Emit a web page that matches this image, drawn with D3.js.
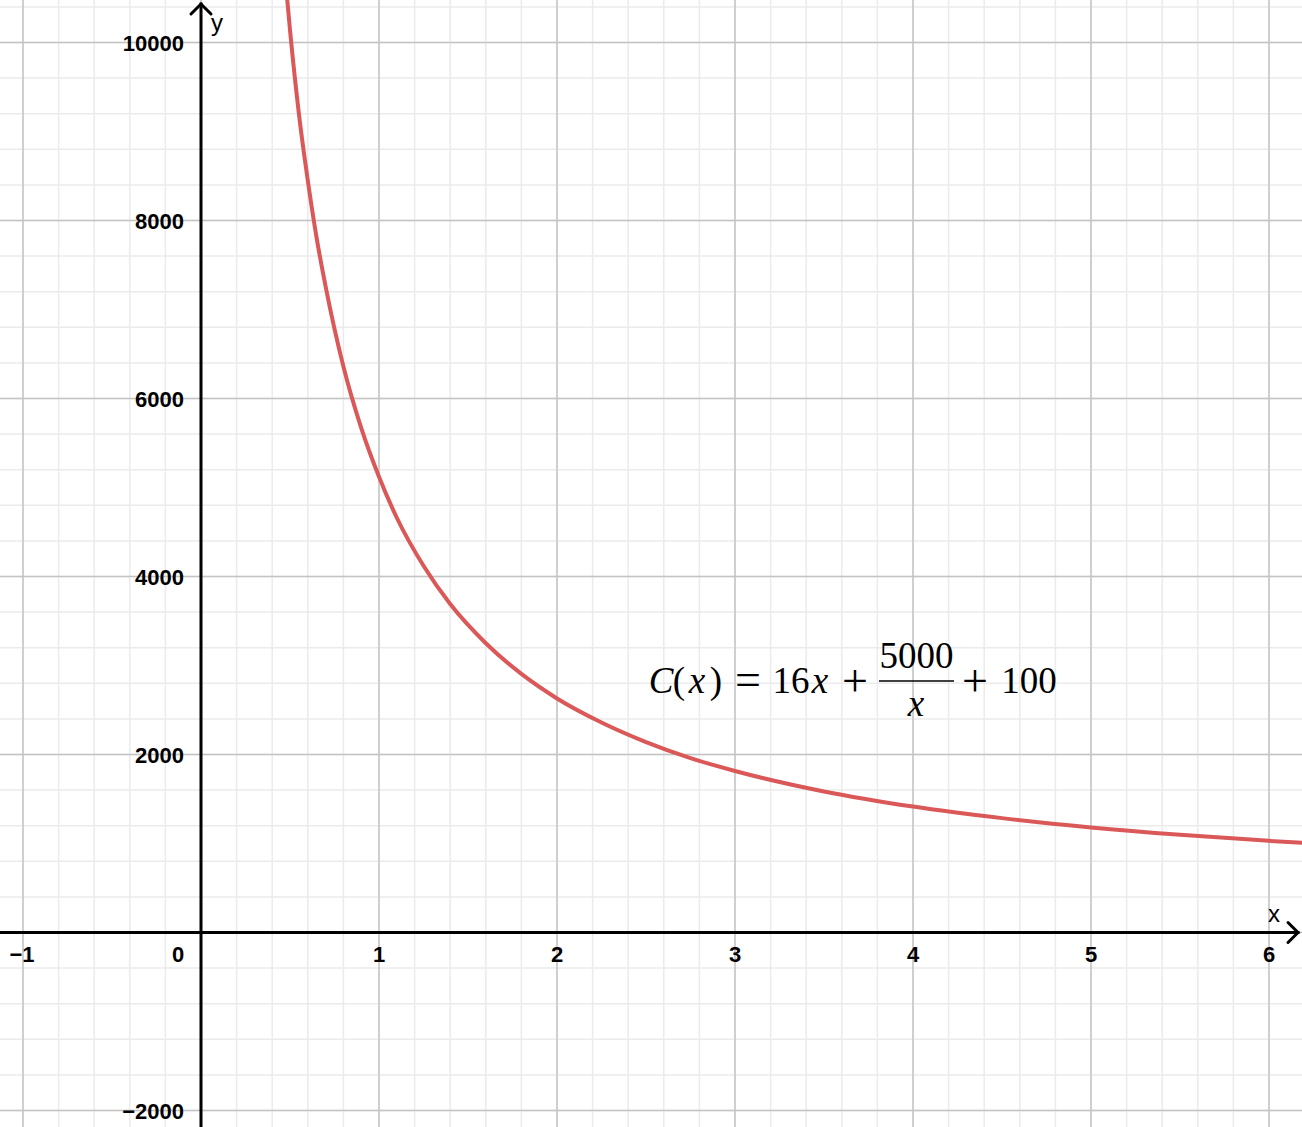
<!DOCTYPE html>
<html>
<head>
<meta charset="utf-8">
<script src="https://cdn.jsdelivr.net/npm/d3@7"></script>
<style>
  html, body { margin: 0; padding: 0; background: #fff; }
  svg { display: block; }
</style>
</head>
<body>
<svg id="chart" width="1302" height="1127"></svg>
<script>
// tick labels
const xTicks = [-1, 0, 1, 2, 3, 4, 5, 6];
const yTicks = [-2000, 2000, 4000, 6000, 8000, 10000];

// curve readings taken off the graph (x, C(x))
const curveX = [0.47, 0.50, 0.55, 0.60, 0.65, 0.70, 0.80, 0.90, 1.00, 1.10, 1.25, 1.40, 1.60, 1.80,
                2.00, 2.25, 2.50, 2.75, 3.00, 3.50, 4.00, 4.50, 5.00, 5.50, 6.00, 6.25];
const curveY = [10800, 10140, 9200, 8450, 7800, 7260, 6360, 5670, 5120, 4660, 4120, 3690, 3250, 2905,
                2630, 2360, 2140, 1960, 1815, 1585, 1415, 1285, 1180, 1097, 1030, 1000];

const width = 1302, height = 1127;
const svg = d3.select("#chart");

const x = d3.scaleLinear().domain([-1, 6]).range([23, 1269]);
const y = d3.scaleLinear().domain([0, 10000]).range([932.5, 42.5]);

const xMin = x.invert(0), xMax = x.invert(width);
const yMin = y.invert(height), yMax = y.invert(0);

// grid: minor every 0.2 / 400, major every 1 / 2000
const minorX = d3.range(Math.ceil(xMin * 5), Math.floor(xMax * 5) + 1).map(d => d / 5);
const minorY = d3.range(Math.ceil(yMin / 400), Math.floor(yMax / 400) + 1).map(d => d * 400);

const grid = svg.append("g");
grid.selectAll(".mx").data(minorX).enter().append("line")
    .attr("x1", d => x(d)).attr("x2", d => x(d))
    .attr("y1", 0).attr("y2", height)
    .style("stroke", "#ebebeb").style("stroke-width", "1.5px");
grid.selectAll(".my").data(minorY).enter().append("line")
    .attr("y1", d => y(d)).attr("y2", d => y(d))
    .attr("x1", 0).attr("x2", width)
    .style("stroke", "#ebebeb").style("stroke-width", "1.5px");

const majorX = minorX.filter(d => Math.abs(d - Math.round(d)) < 1e-9);
const majorY = minorY.filter(d => d % 2000 === 0);
grid.selectAll(".Mx").data(majorX).enter().append("line")
    .attr("x1", d => x(d)).attr("x2", d => x(d))
    .attr("y1", 0).attr("y2", height)
    .style("stroke", "#c4c4c4").style("stroke-width", "1.5px");
grid.selectAll(".My").data(majorY).enter().append("line")
    .attr("y1", d => y(d)).attr("y2", d => y(d))
    .attr("x1", 0).attr("x2", width)
    .style("stroke", "#c4c4c4").style("stroke-width", "1.5px");

// axes
const axes = svg.append("g").style("stroke", "#000").style("stroke-width", "3px")
    .style("fill", "none").style("stroke-linecap", "square");
axes.append("line").attr("x1", 0).attr("x2", width - 4).attr("y1", y(0)).attr("y2", y(0));
axes.append("line").attr("x1", x(0)).attr("x2", x(0)).attr("y1", height).attr("y2", 4);
axes.append("path")
    .attr("d", `M${width - 14},${y(0) - 10}L${width - 4},${y(0)}L${width - 14},${y(0) + 10}`)
    .style("stroke-linecap", "round").style("stroke-linejoin", "miter");
axes.append("path")
    .attr("d", `M${x(0) - 10},14L${x(0)},4L${x(0) + 10},14`)
    .style("stroke-linecap", "round").style("stroke-linejoin", "miter");

svg.append("text").attr("x", 1274).attr("y", 922).attr("text-anchor", "middle")
    .style("font-family", "'Liberation Sans', Arial, sans-serif").style("font-size", "24px")
    .text("x");
svg.append("text").attr("x", 217).attr("y", 31).attr("text-anchor", "middle")
    .style("font-family", "'Liberation Sans', Arial, sans-serif").style("font-size", "24px")
    .text("y");

// tick labels
const fmt = d => (d < 0 ? "\u2212" + Math.abs(d) : String(d));
svg.selectAll(".xl").data(xTicks).enter().append("text")
    .attr("x", d => d === 0 ? x(0) - 23 : x(d) - (d < 0 ? 1 : 0))
    .attr("y", 962)
    .attr("text-anchor", "middle")
    .style("font-family", "'Liberation Sans', Arial, sans-serif")
    .style("font-weight", "bold").style("font-size", "22px")
    .text(fmt);
svg.selectAll(".yl").data(yTicks).enter().append("text")
    .attr("x", 184)
    .attr("y", d => y(d) + 8.5)
    .attr("text-anchor", "end")
    .style("font-family", "'Liberation Sans', Arial, sans-serif")
    .style("font-weight", "bold").style("font-size", "22px")
    .text(fmt);

// curve
svg.append("clipPath").attr("id", "clip").append("rect")
    .attr("x", 0).attr("y", 0).attr("width", width).attr("height", height);
const pts = curveX.map((d, i) => [d, curveY[i]]);
svg.append("path")
    .datum(pts)
    .attr("clip-path", "url(#clip)")
    .attr("d", d3.line().x(d => x(d[0])).y(d => y(d[1])).curve(d3.curveMonotoneX))
    .style("fill", "none")
    .style("stroke", "#db5858")
    .style("stroke-width", "4px");

// formula label, each glyph group centred where it sits in the picture
const serif = "'Liberation Serif', 'Times New Roman', serif";
const f = svg.append("g").style("font-family", serif).style("fill", "#000");
const pieces = [
    {t: "C", cx: 661, it: true, y0: 693},
    {t: "(", cx: 679, y0: 693},
    {t: "x", cx: 697, it: true, y0: 693},
    {t: ")", cx: 716, y0: 693},
    {t: "=", cx: 748, y0: 695, op: true},
    {t: "16", cx: 791, y0: 693},
    {t: "x", cx: 820, it: true, y0: 693},
    {t: "+", cx: 855, y0: 696, op: true},
    {t: "5000", cx: 916.5, y0: 668},
    {t: "x", cx: 916, it: true, y0: 716},
    {t: "+", cx: 975, y0: 696, op: true},
    {t: "100", cx: 1029, y0: 693}
];
f.selectAll("text").data(pieces).enter().append("text")
    .attr("x", d => d.cx).attr("y", d => d.y0)
    .attr("text-anchor", "middle")
    .style("font-size", d => d.op ? "46px" : "37px")
    .style("font-style", d => d.it ? "italic" : "normal")
    .text(d => d.t);
f.append("line").attr("x1", 879).attr("x2", 954).attr("y1", 681).attr("y2", 681)
    .style("stroke", "#000").style("stroke-width", "1.3px");
</script>
</body>
</html>
